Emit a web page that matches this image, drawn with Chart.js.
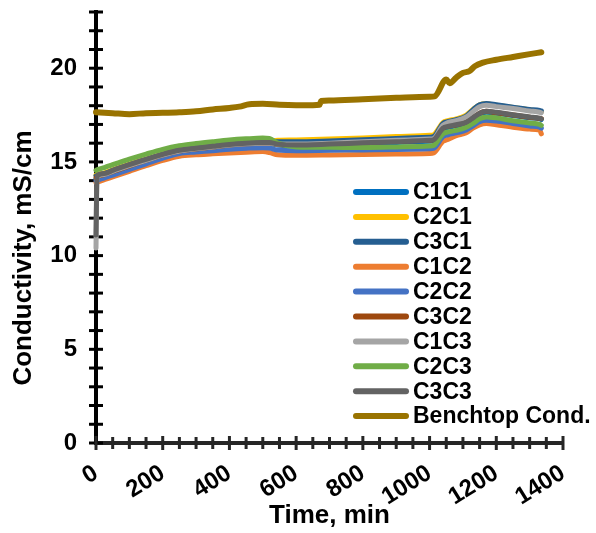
<!DOCTYPE html>
<html>
<head>
<meta charset="utf-8">
<script src="https://cdn.jsdelivr.net/npm/chart.js@4.4.0/dist/chart.umd.min.js"></script>
<style>
    body { margin: 0; background: #fff; }
    #wrap { width: 596px; height: 533px; }
</style>
</head>
<body>
<div id="wrap"><canvas id="myChart" width="596" height="533"></canvas></div>
<script>
// sensor names and line colours
const seriesNames = ["C1C1", "C2C1", "C3C1", "C1C2", "C2C2", "C3C2", "C1C3", "C2C3", "C3C3", "Benchtop Cond."];
const seriesColors = ["#0070C0", "#FFC000", "#255E91", "#ED7D31", "#4472C4", "#9E480E", "#A5A5A5", "#70AD47", "#636363", "#997300"];

// time in minutes for the nine sensors
const sensorTimes = [0, 3, 25, 50, 100, 150, 200, 250, 300, 350, 400, 450, 500, 520, 545, 600, 700, 800, 900, 1000,
    1012, 1040, 1055, 1080, 1110, 1130, 1150, 1170, 1200, 1250, 1300, 1330, 1335];

// conductivity, mS/cm
const c1c1 = [14.1, 14.15, 14.3, 14.45, 14.75, 15.05, 15.33, 15.55, 15.66, 15.76, 15.87, 15.94, 15.98, 15.98, 15.9, 15.86, 15.92, 15.98, 16.04, 16.1,
    16.12, 16.75, 16.85, 16.92, 17.08, 17.3, 17.55, 17.65, 17.6, 17.48, 17.36, 17.3, 17.26];
const c2c1 = [14.3, 14.32, 14.42, 14.58, 14.88, 15.15, 15.42, 15.64, 15.76, 15.86, 15.97, 16.05, 16.1, 16.12, 16.15, 16.17, 16.22, 16.28, 16.35, 16.42,
    16.45, 17.1, 17.2, 17.3, 17.5, 17.8, 18.05, 18.1, 18.02, 17.9, 17.78, 17.7, 17.68];
const c3c1 = [14.25, 14.27, 14.38, 14.54, 14.84, 15.12, 15.4, 15.62, 15.74, 15.84, 15.95, 16.02, 16.07, 16.08, 16.08, 16.08, 16.12, 16.18, 16.25, 16.32,
    16.35, 17.05, 17.15, 17.25, 17.45, 17.78, 18.05, 18.12, 18.05, 17.92, 17.8, 17.75, 17.72];
const c1c2 = [13.9, 13.92, 14.05, 14.2, 14.5, 14.8, 15.08, 15.3, 15.38, 15.43, 15.48, 15.52, 15.55, 15.5, 15.38, 15.35, 15.37, 15.4, 15.42, 15.45,
    15.48, 16.1, 16.2, 16.4, 16.55, 16.8, 16.98, 17.05, 16.98, 16.85, 16.75, 16.7, 16.5];
const c2c2 = [14.0, 14.02, 14.15, 14.3, 14.6, 14.9, 15.2, 15.45, 15.53, 15.6, 15.68, 15.73, 15.76, 15.74, 15.63, 15.6, 15.62, 15.64, 15.66, 15.7,
    15.72, 16.35, 16.45, 16.55, 16.7, 16.92, 17.15, 17.22, 17.18, 17.05, 16.92, 16.85, 16.8];
const c3c2 = [14.15, 14.2, 14.32, 14.48, 14.78, 15.08, 15.36, 15.58, 15.69, 15.79, 15.9, 15.97, 16.0, 16.0, 15.93, 15.9, 15.96, 16.04, 16.1, 16.16,
    16.18, 16.8, 16.9, 16.97, 17.12, 17.35, 17.6, 17.7, 17.62, 17.5, 17.38, 17.32, 17.3];
const c1c3 = [10.4, 14.2, 14.33, 14.5, 14.8, 15.08, 15.36, 15.58, 15.7, 15.8, 15.9, 15.97, 16.0, 16.0, 15.95, 15.95, 16.0, 16.08, 16.15, 16.22,
    16.25, 16.95, 17.1, 17.2, 17.4, 17.68, 17.95, 18.02, 17.95, 17.85, 17.72, 17.65, 17.62];
const c2c3 = [14.55, 14.58, 14.7, 14.85, 15.15, 15.42, 15.67, 15.86, 15.98, 16.08, 16.17, 16.23, 16.27, 16.25, 16.0, 15.8, 15.78, 15.77, 15.8, 15.85,
    15.88, 16.5, 16.6, 16.68, 16.85, 17.05, 17.3, 17.4, 17.35, 17.2, 17.08, 17.0, 16.95];
const c3c3 = [11.1, 14.25, 14.38, 14.55, 14.85, 15.13, 15.4, 15.62, 15.73, 15.83, 15.93, 16.0, 16.03, 16.03, 15.95, 15.9, 15.95, 16.02, 16.08, 16.15,
    16.18, 16.8, 16.9, 16.98, 17.12, 17.35, 17.6, 17.7, 17.65, 17.52, 17.4, 17.33, 17.3];

// benchtop meter readings
const benchTimes = [0, 50, 100, 150, 200, 250, 300, 350, 400, 430, 460, 500, 550, 600, 650, 670, 675, 700, 800, 900, 1000, 1015,
    1050, 1060, 1080, 1100, 1120, 1135, 1160, 1200, 1250, 1300, 1335];
const benchCond = [17.65, 17.6, 17.55, 17.6, 17.62, 17.65, 17.7, 17.8, 17.88, 17.95, 18.08, 18.1, 18.05, 18.03, 18.03, 18.05, 18.25, 18.28, 18.35, 18.42, 18.48, 18.5,
    19.4, 19.2, 19.5, 19.75, 19.85, 20.1, 20.3, 20.45, 20.6, 20.75, 20.85];

const yTickLabels = [0, 5, 10, 15, 20];
const xTickLabels = [0, 200, 400, 600, 800, 1000, 1200, 1400];

const FONT = "'Liberation Sans', Arial, sans-serif";
Chart.defaults.font.family = FONT;
Chart.defaults.color = "#000";

function punkty(czasy, wartosci) {
    return czasy.map(function (t, i) { return { x: t, y: wartosci[i] }; });
}

const sensorData = [c1c1, c2c1, c3c1, c1c2, c2c2, c3c2, c1c3, c2c3, c3c3];
const datasets = [];
for (let i = 0; i < sensorData.length; i++) {
    datasets.push({
        label: seriesNames[i],
        data: punkty(sensorTimes, sensorData[i]),
        borderColor: seriesColors[i],
        backgroundColor: seriesColors[i],
        borderWidth: 5
    });
}
datasets.push({
    label: seriesNames[9],
    data: punkty(benchTimes, benchCond),
    borderColor: seriesColors[9],
    backgroundColor: seriesColors[9],
    borderWidth: 6
});
// later series sit on top of earlier ones
datasets.forEach(function (d, i) {
    d.order = datasets.length - 1 - i;
    d.pointRadius = 0;
    d.fill = false;
    d.clip = false;
    d.cubicInterpolationMode = 'monotone';
    d.borderCapStyle = 'round';
    d.borderJoinStyle = 'round';
});

// cross tick marks on both axes
const tickMarks = {
    id: 'tickMarks',
    beforeDatasetsDraw(chart) {
        const ctx = chart.ctx;
        const xs = chart.scales.x;
        const ys = chart.scales.y;
        const area = chart.chartArea;
        ctx.save();
        ctx.lineWidth = 3;
        ctx.strokeStyle = "#000";
        for (let v = 0; v <= 23; v++) {
            const py = ys.getPixelForValue(v);
            ctx.beginPath();
            ctx.moveTo(area.left - 7, py);
            ctx.lineTo(area.left + 7, py);
            ctx.stroke();
        }
        ctx.strokeStyle = "#262626";
        for (let v = 0; v <= 1400; v += 50) {
            const px = xs.getPixelForValue(v);
            const len = (v % 200 === 0) ? 7 : 6;
            ctx.beginPath();
            ctx.moveTo(px, area.bottom - len);
            ctx.lineTo(px, area.bottom + len);
            ctx.stroke();
        }
        ctx.restore();
    }
};

// y axis title, set a bit lower than the plot centre
const yTitle = {
    id: 'yTitle',
    afterDraw(chart) {
        const ctx = chart.ctx;
        ctx.save();
        ctx.translate(24, 258);
        ctx.rotate(-Math.PI / 2);
        ctx.font = "bold 26px " + FONT;
        ctx.fillStyle = "#000";
        ctx.textAlign = "center";
        ctx.textBaseline = "middle";
        ctx.fillText("Conductivity, mS/cm", 0, 0);
        ctx.restore();
    }
};

// legend inside the plot, lower right
const legendBox = {
    id: 'legendBox',
    afterDraw(chart) {
        const ctx = chart.ctx;
        ctx.save();
        ctx.font = "bold 23px " + FONT;
        ctx.textBaseline = "middle";
        ctx.textAlign = "left";
        ctx.lineCap = "round";
        for (let i = 0; i < seriesNames.length; i++) {
            const y = 192 + i * 24.9;
            ctx.strokeStyle = seriesColors[i];
            ctx.lineWidth = 6;
            ctx.beginPath();
            ctx.moveTo(356, y);
            ctx.lineTo(406, y);
            ctx.stroke();
            ctx.fillStyle = "#000";
            ctx.fillText(seriesNames[i], 413, y + 1);
        }
        ctx.restore();
    }
};

const CHART = document.getElementById("myChart");
const wykres = new Chart(CHART, {
    type: 'line',
    data: { datasets: datasets },
    plugins: [tickMarks, yTitle, legendBox],
    options: {
        responsive: false,
        animation: false,
        devicePixelRatio: 1,
        layout: { padding: { top: 12, right: 33, left: 0, bottom: 0 } },
        plugins: {
            legend: { display: false },
            tooltip: { enabled: false }
        },
        scales: {
            x: {
                type: 'linear',
                min: 0,
                max: 1400,
                afterFit: function (scale) {
                    scale.height = 90;
                    scale.paddingLeft = 0;
                    scale.paddingRight = 0;
                },
                grid: { display: false },
                border: { display: true, color: "#262626", width: 4 },
                ticks: {
                    stepSize: 50,
                    autoSkip: false,
                    maxRotation: 32,
                    minRotation: 32,
                    padding: 8,
                    font: { size: 24, weight: 'bold' },
                    callback: function (v) { return xTickLabels.indexOf(v) >= 0 ? String(v) : ''; }
                },
                title: {
                    display: true,
                    text: "Time, min",
                    font: { size: 26, weight: 'bold' },
                    padding: { top: 0, bottom: 2 }
                }
            },
            y: {
                type: 'linear',
                min: 0,
                max: 23,
                afterFit: function (scale) {
                    scale.width = 96;
                    scale.paddingTop = 0;
                    scale.paddingBottom = 0;
                },
                grid: { display: false, drawTicks: false },
                border: { display: true, color: "#000", width: 4 },
                ticks: {
                    stepSize: 1,
                    autoSkip: false,
                    padding: 19,
                    font: { size: 24, weight: 'bold' },
                    callback: function (v) { return yTickLabels.indexOf(v) >= 0 ? String(v) : ''; }
                }
            }
        }
    }
});
</script>
</body>
</html>
